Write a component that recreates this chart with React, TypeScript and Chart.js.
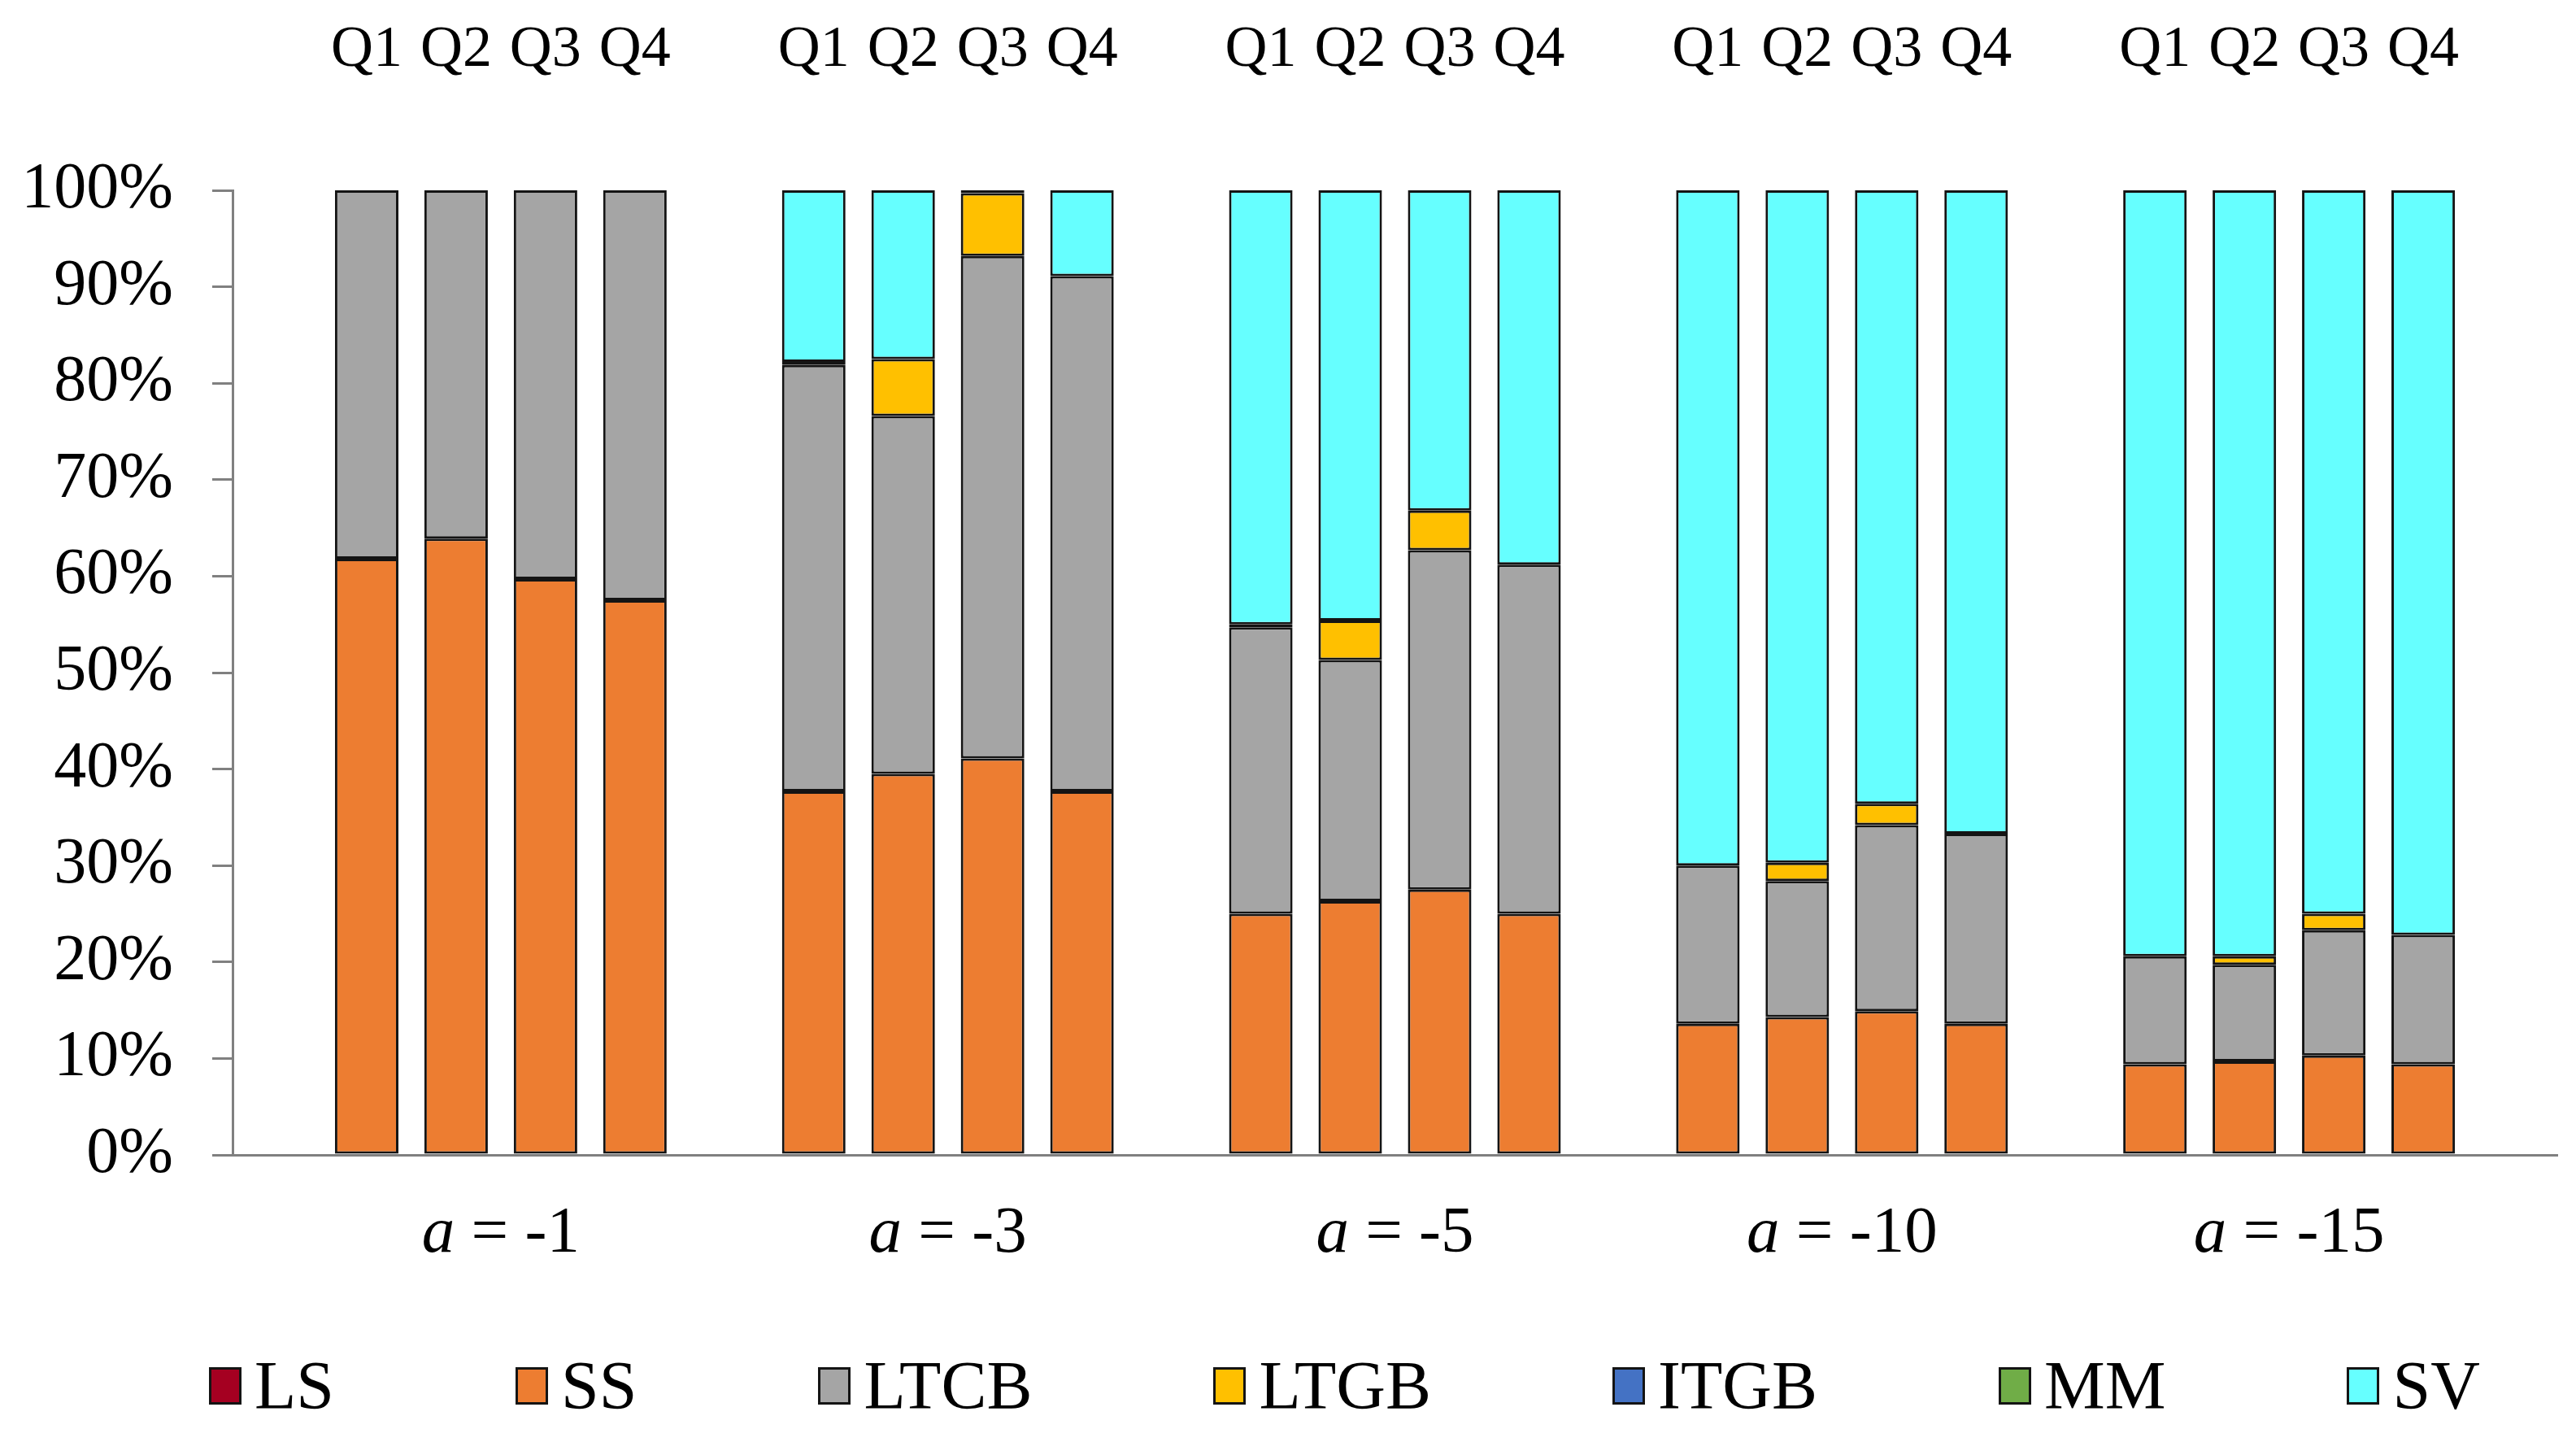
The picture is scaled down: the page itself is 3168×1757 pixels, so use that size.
import { useEffect, useRef } from 'react'
import { Chart, registerables } from 'chart.js'

Chart.register(...registerables)
Chart.defaults.font.family = '"Liberation Serif", "Times New Roman", serif'

const quarters = ['Q1', 'Q2', 'Q3', 'Q4']
const alphaValues = ['-1', '-3', '-5', '-10', '-15']
const yTicks = [0, 10, 20, 30, 40, 50, 60, 70, 80, 90, 100]

// share in % per bar, order: a=-1 Q1..Q4, a=-3 Q1..Q4, a=-5, a=-10, a=-15
const lsValues = [0, 0, 0, 0, 0, 0, 0, 0, 0, 0, 0, 0, 0, 0, 0, 0, 0, 0, 0, 0]
const ssValues = [
  61.8, 63.9, 59.7, 57.5,
  37.7, 39.5, 41.1, 37.7,
  25.0, 26.3, 27.5, 25.0,
  13.6, 14.3, 14.9, 13.6,
  9.4, 9.7, 10.3, 9.4,
]
const ltcbValues = [
  38.2, 36.1, 40.3, 42.5,
  44.2, 37.1, 52.1, 53.4,
  29.7, 25.0, 35.2, 36.2,
  16.4, 14.1, 19.3, 19.7,
  11.2, 10.0, 13.0, 13.4,
]
const ltgbValues = [
  0, 0, 0, 0,
  0.3, 5.9, 6.5, 0,
  0.3, 4.1, 4.1, 0,
  0, 1.9, 2.2, 0,
  0, 0.9, 1.7, 0,
]
const itgbValues = [0, 0, 0, 0, 0, 0, 0, 0, 0, 0, 0, 0, 0, 0, 0, 0, 0, 0, 0, 0]
const mmValues = [0, 0, 0, 0, 0, 0, 0, 0, 0, 0, 0, 0, 0, 0, 0, 0, 0, 0, 0, 0]
const svValues = [
  0, 0, 0, 0,
  17.8, 17.5, 0.3, 8.9,
  45.0, 44.6, 33.2, 38.8,
  70.0, 69.7, 63.6, 66.7,
  79.4, 79.4, 75.0, 77.2,
]

const series = [
  { label: 'LS', values: lsValues, color: '#A50021' },
  { label: 'SS', values: ssValues, color: '#ED7D31' },
  { label: 'LTCB', values: ltcbValues, color: '#A5A5A5' },
  { label: 'LTGB', values: ltgbValues, color: '#FFC000' },
  { label: 'ITGB', values: itgbValues, color: '#4472C4' },
  { label: 'MM', values: mmValues, color: '#70AD47' },
  { label: 'SV', values: svValues, color: '#66FFFF' },
]

const FONT = '"Liberation Serif", "Times New Roman", serif'
const EDGE = '#141414'

// one empty slot before, between and after the groups
const slotLabels: string[] = ['']
alphaValues.forEach(() => {
  quarters.forEach(q => slotLabels.push(q))
  slotLabels.push('')
})

function toSlots(values: number[]) {
  const out: (number | null)[] = [null]
  alphaValues.forEach((_, g) => {
    quarters.forEach((_, q) => out.push(values[g * 4 + q]))
    out.push(null)
  })
  return out
}

// "a = -1" under each group, a in italics
const groupLabelPlugin = {
  id: 'groupLabels',
  afterDraw(chart: any) {
    const { ctx, chartArea } = chart
    const x = chart.scales.x
    ctx.save()
    ctx.fillStyle = '#000'
    ctx.textBaseline = 'alphabetic'
    ctx.textAlign = 'left'
    const y = chartArea.bottom + 119
    alphaValues.forEach((val, g) => {
      const first = 1 + g * 5
      const cx = (x.getPixelForValue(first) + x.getPixelForValue(first + 3)) / 2
      const rest = ' = ' + val
      ctx.font = `italic 81px ${FONT}`
      const wa = ctx.measureText('a').width
      ctx.font = `81px ${FONT}`
      const wr = ctx.measureText(rest).width
      const start = cx - (wa + wr) / 2
      ctx.font = `italic 81px ${FONT}`
      ctx.fillText('a', start, y)
      ctx.font = `81px ${FONT}`
      ctx.fillText(rest, start + wa, y)
    })
    ctx.restore()
  },
}

function Legend() {
  return (
    <div style={{
      position: 'absolute', left: 257, top: 1654, height: 100,
      display: 'flex', alignItems: 'center', gap: 223,
      fontFamily: FONT, fontSize: 84, lineHeight: '100px', color: '#000',
    }}>
      {series.map(s => (
        <div key={s.label} style={{ display: 'flex', alignItems: 'center' }}>
          <span style={{
            display: 'inline-block', boxSizing: 'border-box', width: 40, height: 46,
            background: s.color, border: `3px solid ${EDGE}`, marginRight: 16,
          }} />
          <span>{s.label}</span>
        </div>
      ))}
    </div>
  )
}

export default function App() {
  const canvasRef = useRef<HTMLCanvasElement>(null)

  useEffect(() => {
    const canvas = canvasRef.current
    if (!canvas) return
    const chart = new Chart(canvas, {
      type: 'bar',
      data: {
        labels: slotLabels,
        datasets: series.map(s => ({
          label: s.label,
          data: toSlots(s.values),
          backgroundColor: s.color,
          borderColor: EDGE,
          borderWidth: 3,
          borderSkipped: false,
          categoryPercentage: 1,
          barPercentage: 0.71,
        })),
      },
      options: {
        responsive: false,
        animation: false,
        devicePixelRatio: 1,
        layout: { padding: { left: 0, right: 23, top: 0, bottom: 271 } },
        plugins: {
          tooltip: { enabled: false },
          legend: { display: false },
        },
        scales: {
          x: {
            stacked: true,
            offset: true,
            grid: { display: false, drawTicks: false },
            border: { display: true, color: '#808080', width: 3 },
            ticks: { display: false },
            afterFit: (s: any) => { s.height = 66; s.paddingLeft = 0; s.paddingRight = 0 },
          },
          xTop: {
            type: 'category',
            position: 'top',
            labels: slotLabels,
            offset: true,
            grid: { display: false, drawTicks: false },
            border: { display: false },
            ticks: {
              color: '#000',
              font: { size: 72 },
              autoSkip: false,
              maxRotation: 0,
              padding: 129,
            },
            afterFit: (s: any) => { s.height = 234; s.paddingLeft = 0; s.paddingRight = 0 },
          },
          y: {
            stacked: true,
            min: 0,
            max: 100,
            afterBuildTicks: (s: any) => { s.ticks = yTicks.map(v => ({ value: v })) },
            ticks: {
              color: '#000',
              font: { size: 80 },
              padding: 48,
              callback: (v: any) => v + '%',
            },
            grid: { drawOnChartArea: false, drawTicks: true, tickLength: 25, color: '#808080', lineWidth: 3 },
            border: { display: true, color: '#808080', width: 3 },
            afterFit: (s: any) => { s.width = 286 },
          },
        },
      },
      plugins: [groupLabelPlugin],
    })
    return () => chart.destroy()
  }, [])

  return (
    <div style={{ position: 'fixed', left: 0, top: 0, width: 3168, height: 1757, background: '#fff' }}>
      <canvas ref={canvasRef} width={3168} height={1757} style={{ display: 'block' }} />
      <Legend />
    </div>
  )
}
